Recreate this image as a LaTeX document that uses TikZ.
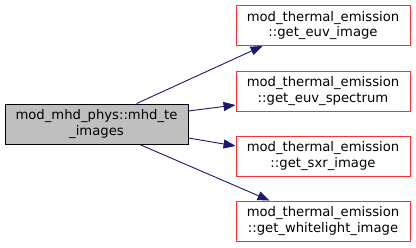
\documentclass[tikz,border=0pt]{standalone}
\usepackage{fontspec}
\setmainfont{DejaVu Sans}
\usetikzlibrary{arrows.meta,calc}
\definecolor{edgeblue}{HTML}{191970}
\definecolor{boxred}{HTML}{FF3030}
\tikzset{
  fnbox/.style={draw, line width=0.9pt, minimum height=40pt, align=center, inner sep=0pt,
    font=\fontsize{13.2}{15.5}\selectfont},
  rootbox/.style={fnbox, fill={rgb,255:red,191;green,191;blue,191}, draw=black, minimum width=183pt},
  calleebox/.style={fnbox, draw=boxred, fill=white, minimum width=174pt},
  callarrow/.style={draw=edgeblue, line width=0.9pt, -{Triangle[length=12pt,width=9pt]}}
}
\begin{document}
\begin{tikzpicture}[x=1pt,y=-1pt]
\useasboundingbox (0,0) rectangle (416,248);
\node[rootbox] (a) at (96.5,124) {mod\_mhd\_phys::mhd\_te\\\_images};
\node[calleebox] (b1) at (323,25.5) {mod\_thermal\_emission\\::get\_euv\_image};
\node[calleebox] (b2) at (323,91) {mod\_thermal\_emission\\::get\_euv\_spectrum};
\node[calleebox] (b3) at (323,156) {mod\_thermal\_emission\\::get\_sxr\_image};
\node[calleebox] (b4) at (323,221) {mod\_thermal\_emission\\::get\_whitelight\_image};
\draw[callarrow] ($(a.north west)+(132,0)$) -- ($(b1.south west)+(27,0)$);
\draw[callarrow] ($(a.east)+(0,-13)$) -- ($(b2.west)+(0,14)$);
\draw[callarrow] ($(a.east)+(0,14)$) -- ($(b3.west)+(0,-10)$);
\draw[callarrow] ($(a.south west)+(135,0)$) -- ($(b4.north west)+(34,0)$);
\end{tikzpicture}
\end{document}
